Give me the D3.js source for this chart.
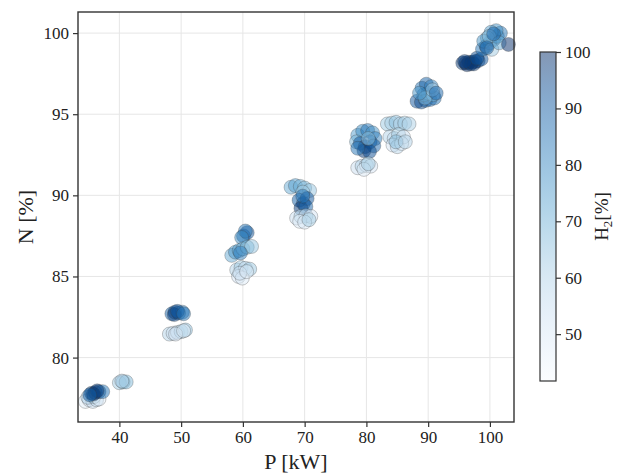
<!DOCTYPE html>
<html>
<head>
<meta charset="utf-8">
<script src="https://cdn.jsdelivr.net/npm/d3@7"></script>
<style>
  html, body { margin: 0; padding: 0; background: #fff; }
  svg { display: block; font-family: "Liberation Serif", "Times New Roman", serif; }
</style>
</head>
<body>
<svg id="chart" width="619" height="474"></svg>
<script>
// Operating points: electrical power, efficiency and hydrogen share of the fuel
const powerKW = [
  34.5, 35.1, 35.7, 36.3, 34.9, 35.9, 36.7,
  35.5, 36.1, 36.7, 37.3, 35.8, 36.4, 35.2,
  40.0, 40.6, 41.1, 40.4,
  48.5, 49.0, 49.6, 50.2, 48.9, 49.4, 50.4,
  48.1, 48.7, 49.4, 50.0, 50.7, 49.1, 50.4,
  60.1, 60.7, 60.4, 59.8,
  58.2, 58.8, 59.4, 60.0, 60.7, 61.4, 59.6,
  59.0, 59.7, 60.4, 61.1, 59.3, 59.9, 59.5, 60.6,
  67.8, 68.5, 69.3, 70.0, 70.8, 69.7,
  69.1, 69.8, 70.4, 69.4, 70.2, 69.7,
  68.7, 69.4, 70.2, 71.0, 69.2, 70.0, 70.7,
  78.6, 79.4, 80.2, 81.0, 78.4, 81.4,
  79.0, 79.8, 80.6, 81.2, 79.6, 80.5, 78.6, 80.3,
  78.6, 79.3, 80.0, 80.7, 79.6, 80.3,
  83.4, 84.1, 84.8, 85.5, 86.2, 86.9,
  83.8, 84.5, 85.2, 86.0, 84.3, 85.0, 85.7, 84.8, 86.3,
  88.2, 88.9, 89.6, 90.3, 91.0, 89.3, 90.0, 90.8, 89.0, 89.7, 90.5, 89.5, 90.7, 88.6, 91.3,
  95.6, 96.1, 96.6, 97.1, 97.6, 98.1, 96.3, 96.9, 97.4, 98.6, 95.9, 97.9,
  98.8, 99.4, 100.0, 100.6, 101.2, 101.7, 101.0, 100.2, 99.6, 99.0, 100.3, 99.9, 101.5, 99.5, 100.6, 103.0
];
const efficiencyPct = [
  77.3, 77.4, 77.3, 77.4, 77.55, 77.6, 77.45,
  77.8, 77.85, 77.9, 77.9, 77.75, 77.95, 77.7,
  78.45, 78.5, 78.5, 78.55,
  82.7, 82.8, 82.75, 82.8, 82.65, 82.85, 82.7,
  81.45, 81.5, 81.55, 81.6, 81.7, 81.45, 81.65,
  87.5, 87.7, 87.8, 87.4,
  86.3, 86.5, 86.6, 86.7, 86.8, 86.85, 86.45,
  85.4, 85.55, 85.5, 85.45, 85.0, 84.9, 85.2, 85.3,
  90.5, 90.6, 90.55, 90.45, 90.3, 90.2,
  89.7, 89.5, 89.8, 89.2, 89.3, 89.95,
  88.6, 88.7, 88.75, 88.7, 88.4, 88.35, 88.5,
  93.7, 93.95, 94.0, 93.85, 93.3, 93.5,
  93.2, 93.0, 93.3, 93.05, 92.75, 92.7, 92.9, 93.5,
  91.7, 91.8, 91.85, 91.8, 91.6, 91.95,
  94.4, 94.45, 94.5, 94.4, 94.45, 94.4,
  93.6, 93.5, 93.75, 93.6, 93.1, 93.0, 93.2, 93.3, 93.3,
  95.8, 95.75, 95.85, 95.9, 96.0, 96.2, 96.3, 96.2, 96.6, 96.85, 96.7, 96.0, 96.5, 96.3, 96.3,
  98.15, 98.15, 98.2, 98.2, 98.25, 98.3, 98.05, 98.1, 98.1, 98.4, 98.25, 98.45,
  99.0, 99.2, 99.4, 99.6, 99.8, 100.0, 100.15, 100.05, 99.7, 99.5, 99.0, 99.8, 99.4, 99.1, 99.95, 99.3
];
const h2Pct = [
  48, 52, 55, 57, 60, 62, 50,
  95, 97, 92, 85, 99, 98, 90,
  63, 66, 68, 60,
  90, 95, 88, 82, 97, 92, 85,
  60, 55, 57, 62, 66, 52, 50,
  88, 92, 85, 80,
  72, 78, 75, 70, 68, 65, 82,
  60, 63, 57, 64, 52, 49, 55, 50,
  72, 75, 70, 68, 65, 63,
  90, 95, 92, 98, 88, 85,
  55, 60, 57, 52, 49, 51, 62,
  75, 80, 85, 78, 70, 82,
  92, 96, 90, 88, 98, 94, 85, 66,
  55, 60, 57, 52, 50, 62,
  64, 62, 66, 60, 64, 61,
  60, 57, 62, 55, 52, 58, 50, 66, 60,
  92, 95, 90, 88, 85, 80, 75, 70, 85, 90, 82, 66, 63, 78, 88,
  98, 100, 97, 99, 96, 95, 100, 98, 99, 92, 97, 94,
  85, 88, 82, 86, 80, 84, 78, 75, 70, 78, 63, 66, 72, 90, 88, 100
];
const xTicks = [40, 50, 60, 70, 80, 90, 100];
const yTicks = [80, 85, 90, 95, 100];
const cbarTicks = [50, 60, 70, 80, 90, 100];

const pointAlpha = 0.5;

const svg = d3.select("#chart");
const plot = { left: 78, top: 12, right: 514, bottom: 422 };

const x = d3.scaleLinear().domain([33.3, 103.9]).range([plot.left, plot.right]);
const y = d3.scaleLinear().domain([76.03, 101.3]).range([plot.bottom, plot.top]);
const h2Domain = [41.7, 100];
const color = d3.scaleSequential(d3.interpolateBlues).domain(h2Domain);

// grid
const grid = svg.append("g").attr("stroke", "#e6e6e6").attr("stroke-width", 1);
grid.selectAll("line.gx").data(xTicks).join("line")
  .attr("x1", d => x(d)).attr("x2", d => x(d))
  .attr("y1", plot.top).attr("y2", plot.bottom);
grid.selectAll("line.gy").data(yTicks).join("line")
  .attr("y1", d => y(d)).attr("y2", d => y(d))
  .attr("x1", plot.left).attr("x2", plot.right);

// points
const pts = d3.range(powerKW.length).map(i => ({ p: powerKW[i], n: efficiencyPct[i], h: h2Pct[i] }));
svg.append("g").selectAll("circle").data(pts).join("circle")
  .attr("cx", d => x(d.p))
  .attr("cy", d => y(d.n))
  .attr("r", 7)
  .attr("fill", d => color(d.h))
  .attr("fill-opacity", pointAlpha)
  .attr("stroke", "#3a3a3a")
  .attr("stroke-opacity", 0.4)
  .attr("stroke-width", 0.7);

// frame
svg.append("rect")
  .attr("x", plot.left).attr("y", plot.top)
  .attr("width", plot.right - plot.left).attr("height", plot.bottom - plot.top)
  .attr("fill", "none").attr("stroke", "#333").attr("stroke-width", 1.4);

// axes
const xAxis = svg.append("g").attr("transform", `translate(0,${plot.bottom})`)
  .call(d3.axisBottom(x).tickValues(xTicks).tickSize(5).tickPadding(4));
const yAxis = svg.append("g").attr("transform", `translate(${plot.left},0)`)
  .call(d3.axisLeft(y).tickValues(yTicks).tickSize(5).tickPadding(4));
[xAxis, yAxis].forEach(a => {
  a.select(".domain").remove();
  a.selectAll(".tick line").attr("stroke", "#333").attr("stroke-width", 1.2);
  a.selectAll(".tick text").attr("fill", "#222")
    .style("font-family", "'Liberation Serif', serif").style("font-size", "17px");
});

svg.append("text")
  .attr("x", (plot.left + plot.right) / 2).attr("y", 469)
  .attr("text-anchor", "middle").attr("fill", "#222")
  .style("font-size", "22px").text("P [kW]");
svg.append("text")
  .attr("transform", `translate(33,${(plot.top + plot.bottom) / 2}) rotate(-90)`)
  .attr("text-anchor", "middle").attr("fill", "#222")
  .style("font-size", "22px").text("N [%]");

// colorbar
const cb = { x: 540, w: 16, top: 52, bottom: 381 };
const cy = d3.scaleLinear().domain(h2Domain).range([cb.bottom, cb.top]);
const defs = svg.append("defs");
const grad = defs.append("linearGradient").attr("id", "cbgrad")
  .attr("x1", 0).attr("y1", 1).attr("x2", 0).attr("y2", 0);
d3.range(0, 1.0001, 0.05).forEach(t => {
  grad.append("stop").attr("offset", t)
    .attr("stop-color", color(h2Domain[0] + t * (h2Domain[1] - h2Domain[0])))
    .attr("stop-opacity", pointAlpha);
});
svg.append("rect").attr("x", cb.x).attr("y", cb.top)
  .attr("width", cb.w).attr("height", cb.bottom - cb.top)
  .attr("fill", "url(#cbgrad)").attr("stroke", "#333").attr("stroke-width", 1.2);
const cAxis = svg.append("g").attr("transform", `translate(${cb.x + cb.w},0)`)
  .call(d3.axisRight(cy).tickValues(cbarTicks).tickSize(5).tickPadding(4));
cAxis.select(".domain").remove();
cAxis.selectAll(".tick line").attr("stroke", "#333").attr("stroke-width", 1.2);
cAxis.selectAll(".tick text").attr("fill", "#222")
  .style("font-family", "'Liberation Serif', serif").style("font-size", "17px");

const h2Label = svg.append("text")
  .attr("transform", `translate(608,${(cb.top + cb.bottom) / 2}) rotate(-90)`)
  .attr("text-anchor", "middle").attr("fill", "#222")
  .style("font-size", "19px");
h2Label.append("tspan").text("H");
h2Label.append("tspan").attr("dy", 4).style("font-size", "13px").text("2");
h2Label.append("tspan").attr("dy", -4).text("[%]");
</script>
</body>
</html>
